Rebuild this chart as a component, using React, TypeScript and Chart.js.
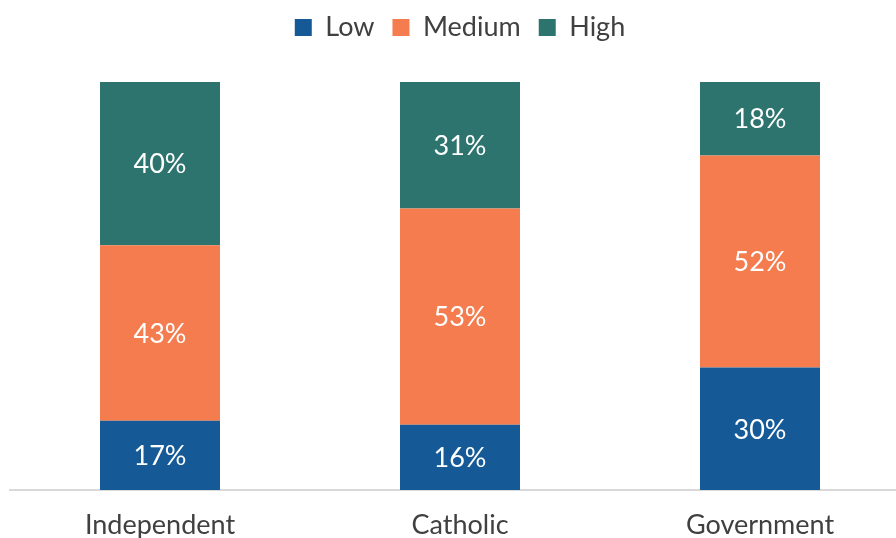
import React, { useEffect, useRef } from "react";
import { Chart, registerables } from "chart.js";

Chart.register(...registerables);

const categories = ["Independent", "Catholic", "Government"];
const seriesNames = ["Low", "Medium", "High"];
const lowValues = [17, 16, 30];
const mediumValues = [43, 53, 52];
const highValues = [40, 31, 18];
const seriesColors = ["#155A96", "#F47C4E", "#2D746F"];

const FONT = "Lato";

const dataLabelPlugin = {
  id: "dataLabels",
  afterDatasetsDraw(chart: any) {
    const ctx = chart.ctx;
    ctx.save();
    ctx.fillStyle = "#ffffff";
    ctx.font = `27px ${FONT}`;
    ctx.textAlign = "center";
    ctx.textBaseline = "middle";
    chart.data.datasets.forEach((ds: any, di: number) => {
      const meta = chart.getDatasetMeta(di);
      meta.data.forEach((bar: any, i: number) => {
        const v = ds.data[i];
        const y = (bar.y + bar.base) / 2;
        ctx.fillText(`${v}%`, bar.x, y + 1);
      });
    });
    ctx.restore();
  },
};

const legendSpacing = {
  id: "legendSpacing",
  beforeInit(chart: any) {
    const legend = chart.legend;
    if (!legend) return;
    const orig = legend.fit;
    legend.fit = function () {
      orig.call(this);
      this.height += 31;
    };
  },
};

export default function App() {
  const ref = useRef<HTMLCanvasElement>(null);
  useEffect(() => {
    document.body.style.margin = "0";
    const chart = new Chart(ref.current!, {
      type: "bar",
      data: {
        labels: categories,
        datasets: [
          { label: seriesNames[0], data: lowValues, backgroundColor: seriesColors[0] },
          { label: seriesNames[1], data: mediumValues, backgroundColor: seriesColors[1] },
          { label: seriesNames[2], data: highValues, backgroundColor: seriesColors[2] },
        ],
      },
      options: {
        responsive: false,
        animation: false,
        layout: { padding: { left: 10, right: 0, top: -4, bottom: 0 } },
        datasets: { bar: { barPercentage: 0.4, categoryPercentage: 1 } },
        scales: {
          x: {
            stacked: true,
            grid: { display: false, drawTicks: false },
            border: { display: true, color: "#D9D9D9", width: 2 },
            ticks: {
              color: "#404040",
              font: { family: FONT, size: 27 },
              padding: 19,
            },
            afterFit(scale: any) {
              scale.height = 48;
            },
          },
          y: {
            stacked: true,
            display: false,
            min: 0,
            max: 100,
          },
        },
        plugins: {
          tooltip: { enabled: false },
          legend: {
            position: "top",
            labels: {
              color: "#404040",
              font: { family: FONT, size: 27 },
              boxWidth: 17,
              boxHeight: 17,
              padding: 18,
            },
          },
        },
      },
      plugins: [dataLabelPlugin, legendSpacing],
    });
    return () => chart.destroy();
  }, []);
  return (
    <div style={{ position: "fixed", left: 0, top: 0, width: 896, height: 538, overflow: "hidden", background: "#fff" }}>
      <canvas ref={ref} width={910} height={538} />
    </div>
  );
}
